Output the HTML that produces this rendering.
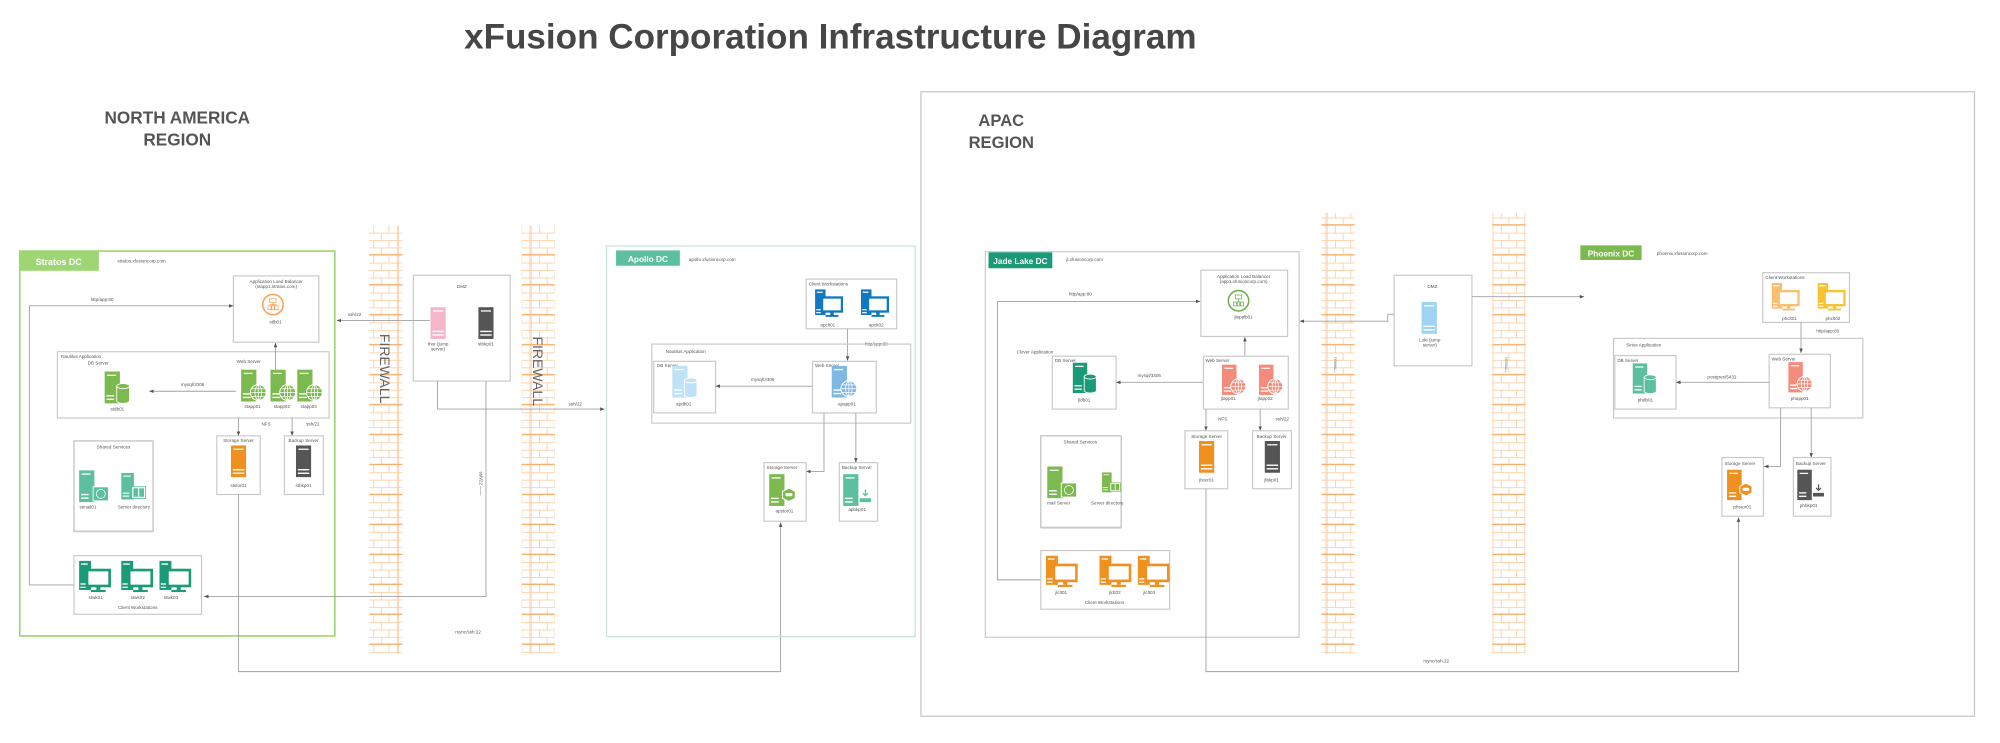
<!DOCTYPE html>
<html><head><meta charset="utf-8"><style>
html,body{margin:0;padding:0;background:#fff;width:2000px;height:743px;overflow:hidden}
svg{display:block}
text{font-family:"Liberation Sans",sans-serif;fill:#555}
.s{font-size:3.6px}
.b{fill:none;stroke:#c8c8c8;stroke-width:0.9}
.l{fill:none;stroke:#a0a0a0;stroke-width:0.7}
</style></head><body>
<svg width="2000" height="743" viewBox="0 0 1568 583" preserveAspectRatio="none" xmlns="http://www.w3.org/2000/svg">
<defs>
<pattern id="brick" x="0" y="177" width="26" height="23.5" patternUnits="userSpaceOnUse">
<g stroke="#fbd0a6" stroke-width="0.7" fill="none">
<line x1="0" y1="5.9" x2="26" y2="5.9"/><line x1="0" y1="11.8" x2="26" y2="11.8"/><line x1="0" y1="17.6" x2="26" y2="17.6"/>
<line x1="7" y1="0" x2="7" y2="5.9"/><line x1="19" y1="0" x2="19" y2="5.9"/>
<line x1="13" y1="5.9" x2="13" y2="11.8"/>
<line x1="7" y1="11.8" x2="7" y2="17.6"/><line x1="19" y1="11.8" x2="19" y2="17.6"/>
<line x1="13" y1="17.6" x2="13" y2="23.5"/>
<line x1="0.5" y1="0" x2="0.5" y2="23.5"/><line x1="25.5" y1="0" x2="25.5" y2="23.5"/>
</g>
<line x1="0" y1="23" x2="26" y2="23" stroke="#f7ad68" stroke-width="1.2"/>
</pattern>
<marker id="a" markerWidth="4" markerHeight="4" refX="3.5" refY="2" orient="auto" markerUnits="userSpaceOnUse"><path d="M0,0.6 L3.5,2 L0,3.4z" fill="#555"/></marker>
<symbol id="srv" viewBox="0 0 12 25"><rect width="12" height="25" fill="currentColor"/><rect x="2" y="2.5" width="8" height="1" fill="#fff"/><rect x="1.5" y="18.5" width="9" height="1.1" fill="#fff"/><rect x="1.5" y="21.3" width="9" height="1.1" fill="#fff"/></symbol>
<symbol id="web" viewBox="0 0 20 25"><rect width="12" height="25" fill="currentColor"/><rect x="2" y="2.5" width="7" height="1" fill="#fff"/><rect x="1.5" y="18.5" width="6" height="1.1" fill="#fff"/><rect x="1.5" y="21.3" width="6" height="1.1" fill="#fff"/><circle cx="13.5" cy="18" r="6.2" fill="currentColor" stroke="#fff" stroke-width="0.8"/><g stroke="#fff" stroke-width="0.6" fill="none"><ellipse cx="13.5" cy="18" rx="2.6" ry="5.6"/><line x1="7.5" y1="18" x2="19.5" y2="18"/><line x1="8.5" y1="15" x2="18.5" y2="15"/><line x1="8.5" y1="21" x2="18.5" y2="21"/><line x1="13.5" y1="12" x2="13.5" y2="24"/></g></symbol>
<symbol id="db" viewBox="0 0 20 25"><rect width="12" height="25" fill="currentColor"/><rect x="2" y="2.5" width="7" height="1" fill="#fff"/><rect x="1.5" y="18.5" width="6" height="1.1" fill="#fff"/><rect x="1.5" y="21.3" width="6" height="1.1" fill="#fff"/><path d="M9.5,11.5 v11.5 a5,2 0 0 0 10,0 v-11.5z" fill="currentColor" stroke="#fff" stroke-width="0.7"/><ellipse cx="14.5" cy="11.5" rx="5" ry="2" fill="currentColor" stroke="#fff" stroke-width="0.7"/></symbol>
<symbol id="ws" viewBox="0 0 24 24"><rect width="9" height="22" fill="currentColor"/><rect x="1.5" y="2" width="5" height="1" fill="#fff"/><rect x="1" y="17" width="4" height="1" fill="#fff"/><rect x="1" y="19.5" width="4" height="1" fill="#fff"/><rect x="6" y="7" width="17" height="12" fill="#fff" stroke="currentColor" stroke-width="2"/><rect x="13" y="19" width="3" height="3" fill="currentColor"/><rect x="9" y="22" width="11" height="1.6" fill="currentColor"/></symbol>
<symbol id="stb" viewBox="0 0 22 25"><rect width="12" height="25" fill="currentColor"/><rect x="2" y="2.5" width="7" height="1" fill="#fff"/><rect x="1.5" y="18.5" width="6" height="1.1" fill="#fff"/><rect x="1.5" y="21.3" width="6" height="1.1" fill="#fff"/><path d="M15.5,11 l5,2.5 v5.5 l-5,2.5 l-5,-2.5 v-5.5z" fill="currentColor" stroke="#fff" stroke-width="0.8"/><rect x="12.8" y="14.8" width="5.4" height="2.6" rx="0.8" fill="#fff"/></symbol>
<symbol id="bk" viewBox="0 0 22 25"><rect width="12" height="25" fill="currentColor"/><rect x="2" y="2.5" width="7" height="1" fill="#fff"/><rect x="1.5" y="18.5" width="6" height="1.1" fill="#fff"/><rect x="1.5" y="21.3" width="6" height="1.1" fill="#fff"/><path d="M13,19 h9 v3 h-9z" fill="currentColor"/><path d="M17.5,12 v5 M15.5,15 l2,2 l2,-2" stroke="currentColor" stroke-width="1" fill="none"/></symbol>
<symbol id="sh" viewBox="0 0 24 25"><rect width="12" height="25" fill="currentColor"/><rect x="2" y="2.5" width="7" height="1" fill="#fff"/><rect x="1.5" y="18.5" width="6" height="1.1" fill="#fff"/><rect x="1.5" y="21.3" width="6" height="1.1" fill="#fff"/><rect x="11" y="13" width="12" height="11" fill="currentColor" stroke="#fff" stroke-width="0.7"/><circle cx="17" cy="18.5" r="3.5" fill="none" stroke="#fff" stroke-width="0.6"/></symbol>
<symbol id="sd" viewBox="0 0 24 25"><rect width="12" height="25" fill="currentColor"/><rect x="2" y="2.5" width="7" height="1" fill="#fff"/><rect x="1.5" y="18.5" width="6" height="1.1" fill="#fff"/><rect x="1.5" y="21.3" width="6" height="1.1" fill="#fff"/><rect x="10" y="13" width="13" height="11" fill="#fff" stroke="currentColor" stroke-width="0.8"/><rect x="11.5" y="14.5" width="4.5" height="8" fill="currentColor"/><rect x="17" y="14.5" width="4.5" height="8" fill="currentColor"/></symbol>
</defs>

<!-- title -->
<text x="651" y="38" text-anchor="middle" font-size="27.5" font-weight="bold" style="fill:#464646">xFusion Corporation Infrastructure Diagram</text>
<text x="139" y="97" text-anchor="middle" font-size="13.5" font-weight="bold" style="fill:#555">NORTH AMERICA</text>
<text x="139" y="114" text-anchor="middle" font-size="13.5" font-weight="bold" style="fill:#555">REGION</text>

<!-- APAC box -->
<rect x="722" y="72" width="826" height="490" fill="none" stroke="#c8c8c8" stroke-width="1"/>
<text x="785" y="99" text-anchor="middle" font-size="13" font-weight="bold" style="fill:#555">APAC</text>
<text x="785" y="116" text-anchor="middle" font-size="13" font-weight="bold" style="fill:#555">REGION</text>

<!-- firewalls -->
<rect x="289.5" y="177" width="26" height="336" fill="url(#brick)"/>
<rect x="409" y="177" width="26" height="336" fill="url(#brick)"/>
<rect x="1036" y="167" width="26" height="346" fill="url(#brick)"/>
<rect x="1170" y="167" width="26" height="346" fill="url(#brick)"/>
<text transform="translate(298,262) rotate(90)" font-size="11" style="fill:#666">FIREWALL</text>
<text transform="translate(418,264) rotate(90)" font-size="11" style="fill:#666">FIREWALL</text>
<text transform="translate(1046,280) rotate(90)" font-size="2.5" style="fill:#777">FIREWALL</text>
<text transform="translate(1180,280) rotate(90)" font-size="2.5" style="fill:#777">FIREWALL</text>

<!-- ========== STRATOS ========== -->
<rect x="15.5" y="197" width="247" height="302" fill="none" stroke="#9fd674" stroke-width="1.3"/>
<rect x="15.5" y="197" width="62" height="15.5" fill="#9fd674"/>
<text x="46" y="208" text-anchor="middle" font-size="7" font-weight="bold" style="fill:#fff">Stratos DC</text>
<text x="92" y="206" class="s">stratos.xfusioncorp.com</text>

<rect x="183" y="216.5" width="67" height="52" class="b"/>
<text x="216.5" y="222" text-anchor="middle" class="s" font-size="3">Application Load Balancer</text>
<text x="216.5" y="226" text-anchor="middle" class="s" font-size="3">(stapp1.stratos.com)</text>
<circle cx="214" cy="239" r="8" fill="#fff" stroke="#f5a257" stroke-width="1.2"/>
<path d="M211.5,234.5h5v3h-5z M210,240h3v3h-3z M212.5,240h3v3h-3z M215,240h3v3h-3z M214,237.5v2.5 M211.5,240v-1h5v1" fill="none" stroke="#f5a257" stroke-width="0.6"/>
<text x="216" y="254" text-anchor="middle" class="s">stlb01</text>

<polyline points="58,459 23,459 23,240 183,240" class="l" marker-end="url(#a)"/>
<text x="80" y="236" text-anchor="middle" class="s">http/app:80</text>

<rect x="45" y="276" width="213" height="52" class="b"/>
<text x="48" y="281" class="s">Nautilus Application</text>
<text x="77" y="286" text-anchor="middle" class="s" font-size="3">DB Server</text>
<use href="#db" x="82" y="291" width="20" height="26" style="color:#7cb94e"/>
<text x="92" y="322" text-anchor="middle" class="s">stdb01</text>
<text x="195" y="285" text-anchor="middle" class="s" font-size="3">Web Server</text>
<use href="#web" x="189" y="290" width="20" height="25" style="color:#7cb94e"/>
<use href="#web" x="212" y="290" width="20" height="25" style="color:#7cb94e"/>
<use href="#web" x="233" y="290" width="20" height="25" style="color:#7cb94e"/>
<text x="198" y="320" text-anchor="middle" class="s" font-size="3">stapp01</text>
<text x="221" y="320" text-anchor="middle" class="s" font-size="3">stapp02</text>
<text x="242" y="320" text-anchor="middle" class="s" font-size="3">stapp03</text>
<line x1="185" y1="307" x2="117" y2="307" class="l" marker-end="url(#a)"/>
<text x="151" y="303" text-anchor="middle" class="s" font-size="3">mysql/3306</text>
<line x1="216" y1="290" x2="216" y2="269" class="l" marker-end="url(#a)"/>

<line x1="187" y1="328" x2="187" y2="342" class="l" marker-end="url(#a)"/>
<line x1="229" y1="328" x2="229" y2="342" class="l" marker-end="url(#a)"/>
<text x="205" y="334" class="s" font-size="3">NFS</text>
<text x="240" y="334" class="s" font-size="3">ssh/22</text>
<rect x="170" y="342" width="34" height="46" class="b"/>
<text x="187" y="347" text-anchor="middle" class="s" font-size="3">Storage Server</text>
<use href="#srv" x="181" y="349.5" width="12" height="25" style="color:#f0901f"/>
<text x="187" y="382" text-anchor="middle" class="s" font-size="3">ststor01</text>
<rect x="223" y="342" width="30.5" height="46" class="b"/>
<text x="238" y="347" text-anchor="middle" class="s" font-size="3">Backup Server</text>
<use href="#srv" x="232" y="349.5" width="12" height="25" style="color:#555"/>
<text x="238" y="382" text-anchor="middle" class="s" font-size="3">stbkp01</text>

<rect x="58" y="346" width="62" height="71" fill="#fff" stroke="#bbb" stroke-width="0.9"/>
<line x1="58.5" y1="417" x2="120" y2="417" stroke="#ccc" stroke-width="1.5"/>
<text x="89" y="352" text-anchor="middle" class="s">Shared Services</text>
<use href="#sh" x="62" y="369" width="24" height="25" style="color:#5bbfa0"/>
<use href="#sd" x="95" y="369" width="20" height="25" style="color:#5bbfa0"/>
<text x="69" y="399" text-anchor="middle" class="s">stmail01</text>
<text x="105" y="399" text-anchor="middle" class="s">Server directory</text>

<rect x="58" y="436" width="100" height="46" class="b"/>
<use href="#ws" x="62" y="440" width="25" height="25" style="color:#1a9a76"/>
<use href="#ws" x="95" y="440" width="25" height="25" style="color:#1a9a76"/>
<use href="#ws" x="125" y="440" width="25" height="25" style="color:#1a9a76"/>
<text x="75" y="470" text-anchor="middle" class="s">stwk01</text>
<text x="108" y="470" text-anchor="middle" class="s">stwk02</text>
<text x="134" y="470" text-anchor="middle" class="s">stwk03</text>
<text x="108" y="478" text-anchor="middle" class="s">Client Workstations</text>

<!-- DMZ NA -->
<rect x="324" y="216" width="76" height="83" class="b"/>
<text x="362" y="226" text-anchor="middle" class="s" font-size="3">DMZ</text>
<use href="#srv" x="337.5" y="241" width="12" height="25" style="color:#f4b6c8"/>
<use href="#srv" x="375" y="241" width="12" height="25" style="color:#555"/>
<text x="343.5" y="271" text-anchor="middle" class="s" font-size="3">thor (jump</text>
<text x="343.5" y="275" text-anchor="middle" class="s" font-size="3">server)</text>
<text x="381" y="271" text-anchor="middle" class="s" font-size="3">stbkp01</text>
<line x1="337" y1="251.5" x2="264" y2="251.5" class="l" marker-end="url(#a)"/>
<text x="278" y="248" text-anchor="middle" class="s" font-size="3">ssh/22</text>
<polyline points="343,299 343,321 474,321" class="l" marker-end="url(#a)"/>
<text x="451" y="318" text-anchor="middle" class="s" font-size="3">ssh/22</text>
<polyline points="381,299 381,468 160,468" class="l" marker-end="url(#a)"/>
<text transform="translate(376,370) rotate(90)" class="s" font-size="3">ssh/22 ——</text>
<polyline points="187,388 187,527 612,527 612,410" class="l" marker-end="url(#a)"/>
<text x="367" y="497" text-anchor="middle" class="s">rsync/ssh:22</text>

<!-- ========== APOLLO ========== -->
<rect x="475.5" y="193" width="242" height="306.5" fill="none" stroke="#c5e6df" stroke-width="1"/>
<rect x="483" y="196.5" width="50" height="12" fill="#5bbfa0"/>
<text x="508" y="205.5" text-anchor="middle" font-size="6.5" font-weight="bold" style="fill:#fff">Apollo DC</text>
<text x="540" y="205" class="s">apollo.xfusioncorp.com</text>

<rect x="632" y="219" width="71" height="39" class="b"/>
<text x="634" y="224" class="s" font-size="3">Client Workstations</text>
<use href="#ws" x="639" y="227" width="22" height="22" style="color:#1079c0"/>
<use href="#ws" x="675" y="227" width="22" height="22" style="color:#1079c0"/>
<text x="649" y="256" text-anchor="middle" class="s" font-size="3">apclt01</text>
<text x="687" y="256" text-anchor="middle" class="s" font-size="3">apclt02</text>
<line x1="664.5" y1="258" x2="664.5" y2="283" class="l" marker-end="url(#a)"/>
<text x="678" y="271" class="s" font-size="3">http/app:80</text>

<rect x="511" y="270" width="203" height="62" class="b"/>
<text x="522" y="277" class="s" font-size="3">Nautilus Application</text>
<rect x="512.5" y="283.5" width="48.5" height="40.5" class="b"/>
<text x="515" y="288" class="s" font-size="3">DB Server</text>
<use href="#db" x="527" y="287" width="20" height="25" style="color:#bfe2f6"/>
<text x="536" y="318" text-anchor="middle" class="s" font-size="3">apdb01</text>
<rect x="637" y="283.5" width="50" height="40.5" class="b"/>
<text x="639" y="288" class="s" font-size="3">Web Server</text>
<use href="#web" x="652" y="287" width="20" height="25" style="color:#80b8e4"/>
<text x="664" y="318" text-anchor="middle" class="s" font-size="3">apapp01</text>
<line x1="637" y1="303" x2="561" y2="303" class="l" marker-end="url(#a)"/>
<text x="598" y="299" text-anchor="middle" class="s" font-size="3">mysql/3306</text>

<polyline points="646,324 646,370 632,370" class="l" marker-end="url(#a)"/>
<line x1="671" y1="324" x2="671" y2="363" class="l" marker-end="url(#a)"/>
<rect x="599" y="363" width="33" height="46" class="b"/>
<text x="601" y="368" class="s" font-size="3">Storage Server</text>
<use href="#stb" x="603" y="372" width="22" height="25" style="color:#7cb94e"/>
<text x="615" y="402" text-anchor="middle" class="s" font-size="3">apstor01</text>
<rect x="658" y="363" width="30" height="46" class="b"/>
<text x="660" y="368" class="s" font-size="3">Backup Server</text>
<use href="#bk" x="661" y="372" width="22" height="25" style="color:#5bbfa0"/>
<text x="672" y="401" text-anchor="middle" class="s" font-size="3">apbkp01</text>

<!-- ========== JADE LAKE ========== -->
<rect x="772.5" y="197.5" width="246" height="302.5" class="b"/>
<rect x="775" y="198" width="50" height="12.5" fill="#1a9a76"/>
<text x="800" y="207" text-anchor="middle" font-size="6.5" font-weight="bold" style="fill:#fff">Jade Lake DC</text>
<text x="836" y="205" class="s" font-size="3">jl.xfusioncorp.com</text>

<rect x="941.5" y="212" width="68" height="52" class="b"/>
<text x="975" y="218" text-anchor="middle" class="s" font-size="3">Application Load Balancer</text>
<text x="975" y="222" text-anchor="middle" class="s" font-size="3">(app1.xfusioncorp.com)</text>
<circle cx="971" cy="236" r="8" fill="#fff" stroke="#6ab04c" stroke-width="1.2"/>
<path d="M968.5,231.5h5v3h-5z M967,237h3v3h-3z M969.5,237h3v3h-3z M972,237h3v3h-3z M971,234.5v2.5" fill="none" stroke="#6ab04c" stroke-width="0.6"/>
<text x="975" y="250" text-anchor="middle" class="s" font-size="3">jlapplb01</text>
<polyline points="816,455 782,455 782,236.5 941,236.5" class="l" marker-end="url(#a)"/>
<text x="838" y="232" class="s" font-size="3">http/app:80</text>

<text x="797" y="277.5" class="s" font-size="3">Clover Application</text>
<rect x="825" y="279.5" width="50" height="41.5" class="b"/>
<text x="827" y="284" class="s" font-size="3">DB Server</text>
<use href="#db" x="841" y="284" width="19" height="25" style="color:#1a9a76"/>
<text x="850" y="315" text-anchor="middle" class="s" font-size="3">jldb01</text>
<rect x="943.5" y="279.5" width="66.5" height="41.5" class="b"/>
<text x="945" y="284" class="s" font-size="3">Web Server</text>
<use href="#web" x="958" y="286" width="19" height="24" style="color:#f58b7a"/>
<use href="#web" x="987" y="286" width="19" height="24" style="color:#f58b7a"/>
<text x="963" y="314" text-anchor="middle" class="s" font-size="3">jlapp01</text>
<text x="992" y="314" text-anchor="middle" class="s" font-size="3">jlapp02</text>
<line x1="943" y1="300" x2="875" y2="300" class="l" marker-end="url(#a)"/>
<text x="901" y="296" text-anchor="middle" class="s" font-size="3">mysql/3306</text>
<line x1="976" y1="279" x2="976" y2="264.5" class="l" marker-end="url(#a)"/>

<line x1="945.5" y1="321" x2="945.5" y2="338" class="l" marker-end="url(#a)"/>
<line x1="988" y1="321" x2="988" y2="338" class="l" marker-end="url(#a)"/>
<text x="955" y="330" class="s" font-size="3">NFS</text>
<text x="1000" y="330" class="s" font-size="3">ssh/22</text>
<rect x="929" y="338" width="33.5" height="45.5" class="b"/>
<text x="946" y="343.5" text-anchor="middle" class="s" font-size="3">Storage Server</text>
<use href="#srv" x="940" y="346" width="12" height="25" style="color:#f0901f"/>
<text x="946" y="378" text-anchor="middle" class="s" font-size="3">jlstor01</text>
<rect x="982" y="338" width="30.5" height="45.5" class="b"/>
<text x="997" y="343.5" text-anchor="middle" class="s" font-size="3">Backup Server</text>
<use href="#srv" x="991.5" y="346" width="12" height="25" style="color:#555"/>
<text x="997" y="378" text-anchor="middle" class="s" font-size="3">jlbkp01</text>

<rect x="816" y="342" width="63" height="72" fill="#fff" stroke="#bbb" stroke-width="0.9"/>
<line x1="816.5" y1="414" x2="879" y2="414" stroke="#ccc" stroke-width="1.5"/>
<text x="847" y="348" text-anchor="middle" class="s" font-size="3.3">Shared Services</text>
<use href="#sh" x="821" y="366" width="24" height="25" style="color:#7cb94e"/>
<use href="#sd" x="864" y="366" width="15" height="25" style="color:#7cb94e"/>
<text x="830" y="396" text-anchor="middle" class="s" font-size="3">mail Server</text>
<text x="868" y="396" text-anchor="middle" class="s" font-size="3">Server directory</text>

<rect x="816" y="432" width="101" height="46" class="b"/>
<use href="#ws" x="820" y="436" width="25" height="25" style="color:#f0901f"/>
<use href="#ws" x="862" y="436" width="25" height="25" style="color:#f0901f"/>
<use href="#ws" x="892" y="436" width="25" height="25" style="color:#f0901f"/>
<text x="832" y="466" text-anchor="middle" class="s" font-size="3">jlclt01</text>
<text x="874" y="466" text-anchor="middle" class="s" font-size="3">jlclt02</text>
<text x="901" y="466" text-anchor="middle" class="s" font-size="3">jlclt03</text>
<text x="866" y="474" text-anchor="middle" class="s" font-size="3">Client Workstations</text>

<rect x="1093" y="216" width="61" height="71" class="b"/>
<text x="1123" y="226" text-anchor="middle" class="s" font-size="3">DMZ</text>
<use href="#srv" x="1114" y="237" width="13" height="25" style="color:#9fd3f3"/>
<text x="1121" y="268" text-anchor="middle" class="s" font-size="3">Loki (jump</text>
<text x="1121" y="272" text-anchor="middle" class="s" font-size="3">server)</text>
<polyline points="1093,246.5 1088,246.5 1088,252 1019,252" class="l" marker-end="url(#a)"/>
<line x1="1154" y1="232.8" x2="1242" y2="232.8" class="l" marker-end="url(#a)"/>
<polyline points="945.5,383.5 945.5,527 1363,527 1363,406" class="l" marker-end="url(#a)"/>
<text x="1126" y="520" text-anchor="middle" class="s" font-size="3">rsync/ssh:22</text>

<!-- ========== PHOENIX ========== -->
<rect x="1239" y="192.5" width="48" height="11.5" fill="#7cb94e"/>
<text x="1263" y="201.3" text-anchor="middle" font-size="6.5" font-weight="bold" style="fill:#fff">Phoenix DC</text>
<text x="1299" y="200" class="s" font-size="3">phoenix.xfusioncorp.com</text>

<rect x="1382" y="214" width="68" height="39" class="b"/>
<text x="1384" y="219" class="s" font-size="3">Client Workstations</text>
<use href="#ws" x="1389" y="222" width="22" height="22" style="color:#fbbd6e"/>
<use href="#ws" x="1425" y="222" width="22" height="22" style="color:#f8c233"/>
<text x="1403" y="251" text-anchor="middle" class="s" font-size="3">phclt01</text>
<text x="1437" y="251" text-anchor="middle" class="s" font-size="3">phclt02</text>
<line x1="1412" y1="253" x2="1412" y2="277" class="l" marker-end="url(#a)"/>
<text x="1424" y="261" class="s" font-size="3">http/app:80</text>

<rect x="1265" y="265.5" width="195.5" height="62.5" class="b"/>
<text x="1275" y="272" class="s" font-size="3">Sirius Application</text>
<rect x="1266" y="279" width="48" height="42" class="b"/>
<text x="1268" y="284" class="s" font-size="3">DB Server</text>
<use href="#db" x="1280" y="285" width="19" height="24" style="color:#5bbfa0"/>
<text x="1290" y="315" text-anchor="middle" class="s" font-size="3">phdb01</text>
<rect x="1387" y="278" width="48" height="42" class="b"/>
<text x="1389" y="283" class="s" font-size="3">Web Server</text>
<use href="#web" x="1402" y="284" width="19" height="24" style="color:#f58b7a"/>
<text x="1411" y="314" text-anchor="middle" class="s" font-size="3">phapp01</text>
<line x1="1387" y1="300" x2="1314" y2="300" class="l" marker-end="url(#a)"/>
<text x="1350" y="297" text-anchor="middle" class="s" font-size="3">postgres/5432</text>

<polyline points="1396,320 1396,366 1383,366" class="l" marker-end="url(#a)"/>
<line x1="1420" y1="320" x2="1420" y2="359" class="l" marker-end="url(#a)"/>
<rect x="1350" y="359" width="32.5" height="46" class="b"/>
<text x="1352" y="365" class="s" font-size="3">Storage Server</text>
<use href="#stb" x="1354" y="368" width="21" height="25" style="color:#f0901f"/>
<text x="1366" y="399" text-anchor="middle" class="s" font-size="3">phstor01</text>
<rect x="1406" y="359" width="29.5" height="46" class="b"/>
<text x="1408" y="365" class="s" font-size="3">Backup Server</text>
<use href="#bk" x="1409" y="368" width="21" height="25" style="color:#555"/>
<text x="1418" y="398" text-anchor="middle" class="s" font-size="3">phbkp01</text>
</svg>
</body></html>
